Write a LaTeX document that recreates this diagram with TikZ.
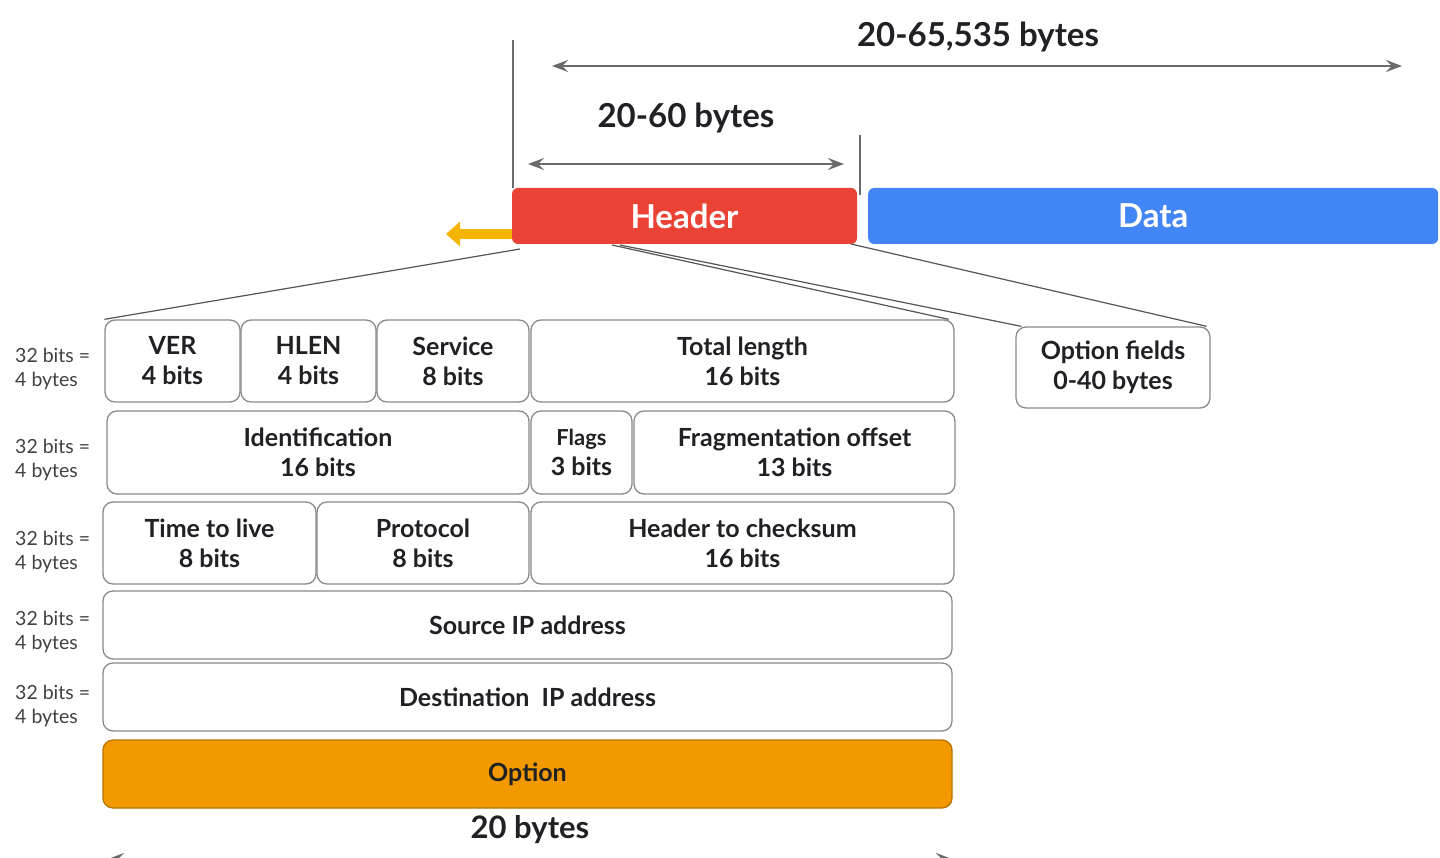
\documentclass[tikz,border=0pt]{standalone}
\usepackage{fontspec}
\setmainfont{Lato}
\usetikzlibrary{arrows.meta,calc}
\definecolor{hdrred}{HTML}{EA4335}
\definecolor{datablue}{HTML}{4285F4}
\definecolor{optorange}{HTML}{F29900}
\definecolor{optedge}{HTML}{B97300}
\definecolor{gold}{HTML}{F4B400}
\definecolor{edgegray}{HTML}{8A8A8A}
\definecolor{arrgray}{HTML}{6A6A6A}
\definecolor{txt}{HTML}{202124}
\tikzset{
  fld/.style={draw=edgegray, line width=1.3pt, rounded corners=10pt, fill=white,
    inner sep=0pt, align=center, text=txt,
    font=\fontsize{25}{30}\selectfont\bfseries},
  bar/.style={rounded corners=6pt, inner sep=0pt, text=white,
    font=\fontsize{33}{36}\selectfont\bfseries},
  side/.style={inner sep=0pt, align=left, anchor=west, text=txt!85,
    font=\fontsize{19.5}{24}\selectfont},
  dim/.style={draw=arrgray, line width=2.2pt, {Stealth[length=16pt,width=12pt,inset=6pt]}-{Stealth[length=16pt,width=12pt,inset=6pt]}},
  dimlabel/.style={inner sep=0pt, text=txt, font=\fontsize{33}{38}\selectfont\bfseries},
  tick/.style={draw=arrgray, line width=1.2pt},
  lead/.style={draw=arrgray!80!black, line width=1.2pt}
}
\newcommand{\fieldbox}[6]{% name, x1, y1, x2, y2, text
  \node[fld, minimum width={#4-#2}, minimum height={#5-#3}] (#1) at ({(#2+#4)/2},{(#3+#5)/2}) {#6};}
\begin{document}
\begin{tikzpicture}[x=1pt,y=-1pt]
\useasboundingbox (0,0) rectangle (1440,858);
\fill[white] (0,0) rectangle (1440,858);

% header / data bars
\node[bar, fill=hdrred, minimum width=345, minimum height=56] (hdr) at (684.5,216) {Header};
\node[bar, fill=datablue, minimum width=570, minimum height=56, anchor=west] (data) at (868,216) {Data};

% ticks
\coordinate (t1a) at (513,40);
\coordinate (t1b) at (513,188);
\coordinate (t2a) at (860,135);
\coordinate (t2b) at (860,195);
\draw[tick] (t1a) -- (t1b);
\draw[tick] (t2a) -- (t2b);

% dimension arrows
\coordinate (a1l) at (552,66);
\coordinate (a1r) at (1402,66);
\draw[dim] (a1l) -- (a1r);
\node[dimlabel] (l1) at (978,37) {20-65,535 bytes};
\coordinate (a2l) at (528,164);
\coordinate (a2r) at (844,164);
\draw[dim] (a2l) -- (a2r);
\node[dimlabel] (l2) at (686,118) {20-60 bytes};

% gold arrow
\coordinate (g1) at (512,234);
\coordinate (g2) at (446,234);
\draw[gold, line width=10pt, -{Triangle[length=14pt,width=24pt]}] (g1) -- (g2);

% fields
\fieldbox{ver}{105}{320}{240}{402}{VER\\4 bits}
\fieldbox{hlen}{241}{320}{376}{402}{HLEN\\4 bits}
\fieldbox{serv}{377}{320}{529}{402}{Service\\8 bits}
\fieldbox{tlen}{531}{320}{954}{402}{Total length\\16 bits}
\fieldbox{ident}{107}{411}{529}{494}{Identification\\16 bits}
\fieldbox{flags}{531}{411}{632}{494}{\fontsize{22}{27}\selectfont Flags\\3 bits}
\fieldbox{frag}{634}{411}{955}{494}{Fragmentation offset\\13 bits}
\fieldbox{ttl}{103}{502}{316}{584}{Time to live\\8 bits}
\fieldbox{proto}{317}{502}{529}{584}{Protocol\\8 bits}
\fieldbox{chk}{531}{502}{954}{584}{Header to checksum\\16 bits}
\fieldbox{src}{103}{591}{952}{659}{Source IP address}
\fieldbox{dst}{103}{663}{952}{731}{Destination\ \ IP address}
\node[fld, draw=optedge, fill=optorange, minimum width=849, minimum height=68] (opt) at (527.5,774) {Option};
\fieldbox{optf}{1016}{327}{1210}{408}{Option fields\\0-40 bytes}

% side labels
\foreach \n/\y in {r1/369, r2/460, r3/552, r4/632, r5/706}{
  \node[side] (\n) at (15,\y) {32 bits =\\4 bytes};
}

% bottom label and arrow
\node[dimlabel, font=\fontsize{31}{34}\selectfont\bfseries] (l3) at (530,830) {20 bytes};
\coordinate (a3l) at (108,859);
\coordinate (a3r) at (952,859);
\draw[dim] (a3l) -- (a3r);

% leader lines from header
\coordinate (h1) at (520,249);
\coordinate (h2) at (612,245);
\coordinate (h3) at (620,245);
\coordinate (h4) at (851,244);
\draw[lead] (h1) -- (ver.north west);
\draw[lead] (h2) -- ($(tlen.north east)+(-6,0)$);
\draw[lead] (h3) -- ($(optf.north west)+(6,0)$);
\draw[lead] (h4) -- ($(optf.north east)+(-4,0)$);
\end{tikzpicture}
\end{document}
